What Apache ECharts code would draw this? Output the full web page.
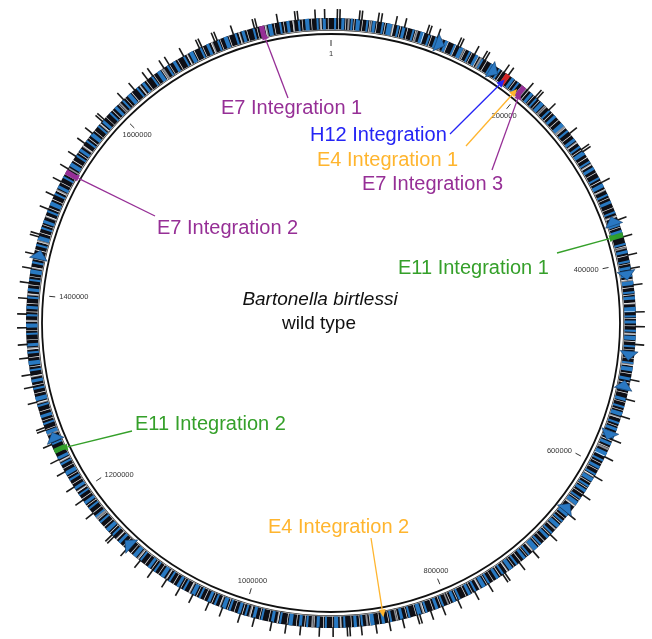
<!DOCTYPE html>
<html>
<head>
<meta charset="utf-8">
<title>Bartonella birtlessi</title>
<script src="https://cdn.jsdelivr.net/npm/echarts@6/dist/echarts.min.js"></script>
<style>
html, body { margin: 0; padding: 0; background: #fff; }
#main { width: 652px; height: 639px; }
</style>
</head>
<body>
<div id="main"></div>
<script>
// genome size in bp
var genomeLength = 1830000;

// scale ring
var scaleTicks = [0, 200000, 400000, 600000, 800000, 1000000, 1200000, 1400000, 1600000];
var scaleLabels = ['1', '200000', '400000', '600000', '800000', '1000000', '1200000', '1400000', '1600000'];

// genes drawn in blue, [start kb, length kb]
var blueGenes = [[3,2],[10,3],[19,2],[24,4],[34,2],[40,3],[49,2],[54,5],[64,2],[69,3],[79,2],[87,4],[95,2],[102,3],[112,3],[121,2],[127,4],[137,2],[144,3],[151,2],[161,3],[170,2],[185,3],[192,2],
	[208,3],[215,2],[221,4],[232,2],[239,3],[249,5],[258,2],[268,3],[277,2],[283,4],[294,2],[301,3],[312,2],[319,4],[330,2],[337,3],[348,2],[360,3],[367,4],[380,2],[387,3],[397,2],
	[403,3],[411,2],[417,4],[427,2],[432,3],[442,5],[450,2],[455,3],[464,2],[470,4],[479,2],[485,3],[495,2],[500,4],[510,3],[521,2],[530,3],[538,2],[544,4],[554,2],[560,3],[569,2],[575,3],[585,5],[593,2],
	[600,3],[608,2],[613,4],[621,2],[626,3],[635,2],[640,4],[655,3],[663,2],[668,4],[678,2],[683,3],[693,2],[698,5],[708,2],[713,3],[723,2],[729,4],[739,2],[745,3],[755,2],[760,4],[770,2],[776,3],[787,2],[792,3],
	[804,2],[810,3],[821,2],[827,4],[838,2],[845,3],[856,2],[863,3],[873,4],[884,2],[890,3],[901,2],[908,4],[919,2],[926,3],[937,2],[943,3],[952,4],[963,2],[970,3],[981,2],[988,3],[997,2],
	[1003,3],[1013,2],[1018,4],[1028,2],[1034,3],[1044,2],[1050,4],[1061,2],[1067,3],[1077,2],[1084,4],[1094,2],[1100,3],[1111,2],[1117,4],[1128,2],[1137,3],[1147,2],[1153,4],[1164,2],[1170,3],[1181,2],[1187,3],[1197,2],
	[1204,3],[1214,2],[1220,4],[1231,2],[1237,3],[1252,2],[1263,4],[1273,2],[1280,3],[1291,2],[1297,4],[1308,2],[1315,3],[1326,2],[1332,4],[1343,2],[1350,3],[1361,2],[1368,4],[1379,2],[1386,3],[1396,2],
	[1403,3],[1413,2],[1420,4],[1430,2],[1436,3],[1447,2],[1453,4],[1464,2],[1470,3],[1481,2],[1488,4],[1499,2],[1506,3],[1517,2],[1530,4],[1541,2],[1547,3],[1558,2],[1565,4],[1576,2],[1582,3],[1593,2],
	[1600,3],[1610,2],[1617,4],[1628,2],[1635,3],[1646,2],[1653,4],[1664,2],[1671,3],[1682,2],[1689,4],[1700,2],[1707,3],[1718,2],[1725,4],[1736,2],[1743,3],[1754,2],[1769,4],[1780,2],[1787,3],[1798,2],[1805,4],[1816,2],[1822,3]];

// genes drawn in grey, [start kb, length kb]
var greyGenes = [[16,2],[38,1.5],[59,2],[83,1.5],[108,2],[131,1.5],[149,2],[178,1.5],[201,2],[226,1.5],[253,2],[272,1.5],[297,2],[325,1.5],[352,2],[384,1.5],[415,2],[438,1.5],[467,2],[497,1.5],
	[518,2],[549,1.5],[581,2],[611,1.5],[644,2],[673,1.5],[703,2],[734,1.5],[765,2],[799,1.5],[824,2],[851,1.5],[879,2],[905,1.5],[932,2],[966,1.5],[993,2],[1023,1.5],[1055,2],[1081,1.5],
	[1114,2],[1142,1.5],[1169,2],[1201,1.5],[1234,2],[1262,1.5],[1294,2],[1320,1.5],[1347,2],[1374,1.5],[1399,2],[1425,1.5],[1451,2],[1476,1.5],[1503,2],[1527,1.5],[1552,2],[1579,1.5],
	[1606,2],[1632,1.5],[1659,2],[1686,1.5],[1712,2],[1740,1.5],[1766,2],[1793,1.5],[1819,2]];

// white breaks between genes, kb
var geneBreaks = [7,14,22,30,37,44,52,60,67,74,82,90,98,106,115,123,133,140,147,156,164,174,182,189,197,205,212,219,228,236,245,255,264,273,281,290,298,307,316,325,334,344,353,364,373,383,392,400,
	408,415,423,430,438,446,453,460,468,475,483,491,498,506,515,525,534,542,550,558,565,573,580,589,597,604,611,618,624,631,638,645,652,660,666,674,681,689,696,704,711,719,727,735,743,751,758,766,774,781,790,797,
	807,815,824,832,841,850,859,868,877,887,895,905,913,922,931,940,948,957,966,975,984,993,1001,1009,1016,1024,1032,1040,1048,1056,1065,1073,1081,1090,1098,1106,1114,1123,1133,1142,1151,1159,1168,1176,1185,1193,
	1201,1210,1218,1227,1235,1244,1257,1268,1277,1286,1295,1304,1312,1321,1330,1339,1347,1356,1365,1374,1383,1391,1400,1409,1417,1426,1434,1443,1451,1460,1468,1477,1485,1494,1503,1512,1521,1536,1545,1553,1562,
	1571,1580,1588,1597,1605,1614,1622,1632,1640,1649,1658,1667,1676,1686,1694,1703,1712,1721,1730,1740,1748,1758,1766,1775,1784,1793,1802,1811,1820,1827];

// features sticking out of the ring, kb
var outerFeatures = [6,8.5,27,29.5,45,48,62,71,93,95.5,104,125,127.5,143,152,154.5,176,181,204,214,216.5,232,
	262,281,283.5,318,357,374,392,405,421,447,461,478,512,531,548,572,590,611,632,655,681,
	704,721,738,740.5,757,772,790,806,818,829,831.5,846,859,872,886,897,899.5,913,926,944,958,972,989,1003,1021,1035,1052,1066,1081,1097,1112,
	1129,1146,1148.5,1176,1192,1207,1224,1237,1253,1268,1270.5,1296,1311,1323,1339,1352,1368,1381,1396,1411,1425,1439,1456,1458.5,1484,1498,1513,1527,1541,1556,1568,1583,1585.5,1612,1626,
	1642,1648,1661,1667,1683,1700,1702.5,1716,1718.5,1735,1756,1758.5,1779,1796,1798.5,1815,1824];

// big arrows, kb and strand
var arrowSites = [109.3, 168, 355.8, 411.7, 490, 517.5, 570, 649.8, 1132, 1259.7, 1440];
var arrowStrands = [1, 1, -1, 1, 1, -1, 1, -1, 1, 1, 1];

// integration sites, bp
var integrationNames = ['E7 Integration 1', 'H12 Integration', 'E4 Integration 1', 'E7 Integration 3', 'E7 Integration 2', 'E11 Integration 1', 'E11 Integration 2', 'E4 Integration 2'];
var integrationSites = [1763000, 180500, 195700, 199700, 1523500, 372000, 1246000, 863700];

// ---- styles / layout ----
var groupColor = { E7: '#962f96', H12: '#2424f5', E4: '#ffb52e', E11: '#35a02a' };
var siteBlockColor = { E7: '#962f96', H12: '#d42424', E11: '#2e9b2e' };
// label left/middle and line start, px
var labelLayout = {
	'E7 Integration 1': { text: [221, 108], from: [288, 98] },
	'H12 Integration': { text: [310, 135], from: [450, 134] },
	'E4 Integration 1': { text: [317, 160], from: [466, 146] },
	'E7 Integration 3': { text: [362, 184], from: [492, 170] },
	'E7 Integration 2': { text: [157, 228], from: [155, 216] },
	'E11 Integration 1': { text: [398, 268], from: [557, 253] },
	'E11 Integration 2': { text: [135, 424], from: [132, 431] },
	'E4 Integration 2': { text: [268, 527], from: [371, 538] }
};
var FONT = '"Liberation Sans", Arial, sans-serif';
var BAND_IN = 293.5, BAND_OUT = 305;

function kbSpans(list) {
	return list.map(function(d) {
		return [d[0] * 1000, (d[0] + d[1]) * 1000];
	});
}

function groupOf(name) {
	return name.split(' ')[0];
}

// polygon along the ring through the polar scales
function arcPoly(api, a0, a1, r0, r1) {
	var n = Math.max(1, Math.ceil((a1 - a0) / 4000));
	var pts = [];
	for (var i = 0; i <= n; i++) pts.push(api.coord([r1, a0 + (a1 - a0) * i / n]));
	for (var j = n; j >= 0; j--) pts.push(api.coord([r0, a0 + (a1 - a0) * j / n]));
	return pts;
}

function bandSeries(data, r0, r1, color) {
	return {
		type: 'custom',
		coordinateSystem: 'polar',
		silent: true,
		data: data,
		renderItem: function(params, api) {
			return {
				type: 'polygon',
				shape: { points: arcPoly(api, api.value(0), api.value(1), r0, r1) },
				style: { fill: color }
			};
		}
	};
}

var myChart = echarts.init(document.getElementById('main'), null, { renderer: 'canvas' });

var series = [];
// thin inner edge of the gene ring
series.push(bandSeries([[0, genomeLength]], 292.3, 293.1, '#333'));
// gene ring
series.push(bandSeries([[0, genomeLength]], BAND_IN, BAND_OUT, '#0e0f16'));
series.push(bandSeries(kbSpans(blueGenes), BAND_IN, BAND_OUT, '#2879c2'));
series.push(bandSeries(kbSpans(greyGenes), BAND_IN, BAND_OUT, '#8c8f96'));
series.push(bandSeries(geneBreaks.map(function(p) { return [p * 1000, p * 1000 + 600]; }), BAND_IN, BAND_OUT, '#ffffff'));

// outer features
series.push({
	type: 'custom',
	coordinateSystem: 'polar',
	silent: true,
	data: outerFeatures.map(function(p) { return [p * 1000, 0]; }),
	renderItem: function(params, api) {
		var a = api.coord([BAND_OUT - 1, api.value(0)]);
		var b = api.coord([314, api.value(0)]);
		return {
			type: 'line',
			shape: { x1: a[0], y1: a[1], x2: b[0], y2: b[1] },
			style: { stroke: '#1a1a1a', lineWidth: 1.6 }
		};
	}
});

// big strand arrows
series.push({
	type: 'custom',
	coordinateSystem: 'polar',
	silent: true,
	data: arrowSites.map(function(p, i) { return [p * 1000, arrowStrands[i]]; }),
	renderItem: function(params, api) {
		var p = api.value(0), d = api.value(1);
		var base = p - d * 5000, tip = p + d * 4000;
		return {
			type: 'polygon',
			shape: { points: [api.coord([290.5, base]), api.coord([308.5, base]), api.coord([299.5, tip])] },
			style: { fill: '#2a78c2', stroke: '#123a66', lineWidth: 0.6 }
		};
	}
});

// coloured blocks on the ring at integration sites
series.push({
	type: 'custom',
	coordinateSystem: 'polar',
	silent: true,
	data: integrationSites.map(function(p) { return [p, 0]; }),
	renderItem: function(params, api) {
		var c = siteBlockColor[groupOf(integrationNames[params.dataIndex])];
		if (!c) return null;
		var p = api.value(0);
		return {
			type: 'polygon',
			shape: { points: arcPoly(api, p - 2500, p + 2500, BAND_IN, BAND_OUT) },
			style: { fill: c }
		};
	}
});

// scale ticks and labels inside the backbone
series.push({
	type: 'custom',
	coordinateSystem: 'polar',
	silent: true,
	data: scaleTicks.map(function(v) { return [v, 0]; }),
	renderItem: function(params, api) {
		var v = api.value(0);
		var cs = params.coordSys;
		var a = api.coord([277, v]), b = api.coord([283, v]);
		var p = api.coord([273, v]);
		var dx = (p[0] - cs.cx) / 273, dy = (p[1] - cs.cy) / 273;
		var align, valign;
		if (Math.abs(dx) < 0.75) {
			align = 'center';
			valign = dy < 0 ? 'top' : 'bottom';
		} else {
			align = dx > 0 ? 'right' : 'left';
			valign = 'middle';
		}
		return {
			type: 'group',
			children: [{
				type: 'line',
				shape: { x1: a[0], y1: a[1], x2: b[0], y2: b[1] },
				style: { stroke: '#333', lineWidth: 1 }
			}, {
				type: 'text',
				x: p[0],
				y: p[1],
				style: {
					text: scaleLabels[params.dataIndex],
					font: '7.5px ' + FONT,
					fill: '#333',
					textFill: '#333',
					align: align,
					textAlign: align,
					verticalAlign: valign,
					textVerticalAlign: valign
				}
			}]
		};
	}
});

// integration call-outs
series.push({
	type: 'custom',
	coordinateSystem: 'polar',
	silent: true,
	data: integrationSites.map(function(p) { return [p, 0]; }),
	renderItem: function(params, api) {
		var name = integrationNames[params.dataIndex];
		var lay = labelLayout[name];
		var color = groupColor[groupOf(name)];
		var end = api.coord([299, api.value(0)]);
		var s = lay.from;
		var ang = Math.atan2(end[1] - s[1], end[0] - s[0]);
		var cos = Math.cos(ang), sin = Math.sin(ang);
		var hl = 8, hw = 3.5;
		var bx = end[0] - hl * cos, by = end[1] - hl * sin;
		return {
			type: 'group',
			children: [{
				type: 'line',
				shape: { x1: s[0], y1: s[1], x2: bx, y2: by },
				style: { stroke: color, lineWidth: 1.3 }
			}, {
				type: 'polygon',
				shape: { points: [end, [bx - hw * sin, by + hw * cos], [bx + hw * sin, by - hw * cos]] },
				style: { fill: color }
			}, {
				type: 'text',
				x: lay.text[0],
				y: lay.text[1],
				style: {
					text: name,
					font: '20px ' + FONT,
					fill: color,
					textFill: color,
					align: 'left',
					textAlign: 'left',
					verticalAlign: 'middle',
					textVerticalAlign: 'middle'
				}
			}]
		};
	}
});

var option = {
	animation: false,
	backgroundColor: '#fff',
	polar: {
		center: [331, 323],
		radius: 289
	},
	angleAxis: {
		type: 'value',
		min: 0,
		max: genomeLength,
		startAngle: 90,
		clockwise: true,
		axisLine: { show: true, lineStyle: { color: '#111', width: 1.8 } },
		axisTick: { show: false },
		axisLabel: { show: false },
		splitLine: { show: false }
	},
	radiusAxis: {
		type: 'value',
		min: 0,
		max: 289,
		show: false,
		splitLine: { show: false }
	},
	graphic: [{
		type: 'text',
		x: 320,
		y: 300,
		style: {
			text: 'Bartonella birtlessi',
			font: 'italic 19px ' + FONT,
			fill: '#111',
			textFill: '#111',
			align: 'center',
			textAlign: 'center',
			verticalAlign: 'middle',
			textVerticalAlign: 'middle'
		}
	}, {
		type: 'text',
		x: 319,
		y: 324,
		style: {
			text: 'wild type',
			font: '19px ' + FONT,
			fill: '#111',
			textFill: '#111',
			align: 'center',
			textAlign: 'center',
			verticalAlign: 'middle',
			textVerticalAlign: 'middle'
		}
	}],
	series: series
};
myChart.setOption(option);
</script>
</body>
</html>
